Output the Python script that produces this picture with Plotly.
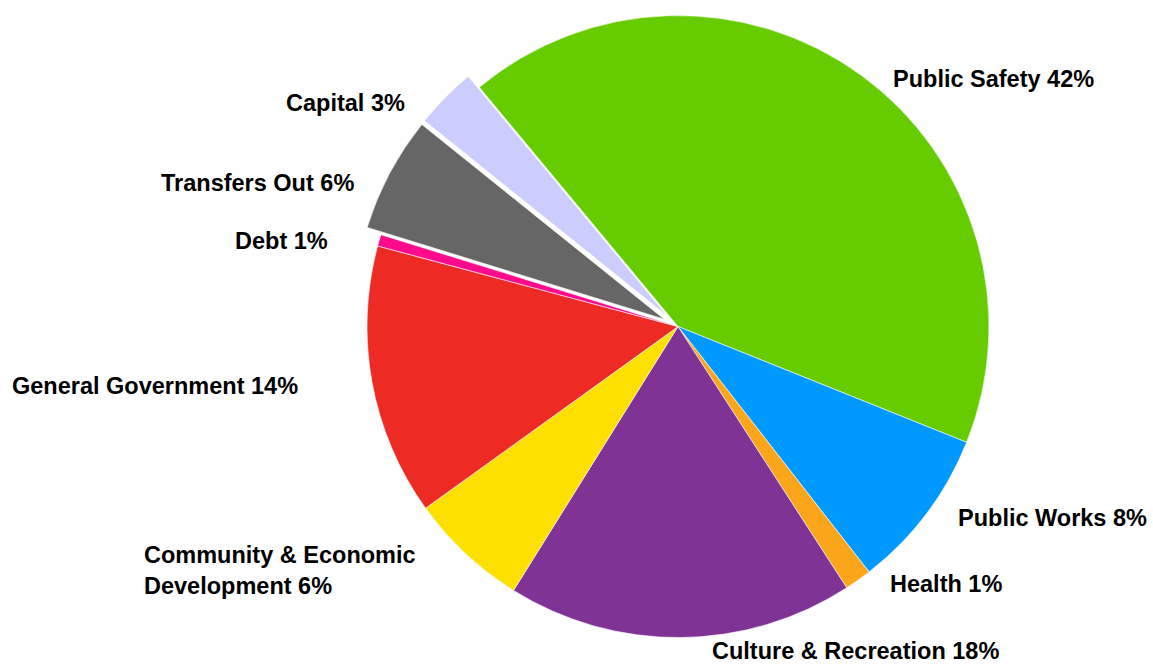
import math
import plotly.graph_objects as go

# Expenditure shares by function (percent of total)
categories = [
    "Public Safety",
    "Public Works",
    "Health",
    "Culture & Recreation",
    "Community & Economic Development",
    "General Government",
    "Debt",
    "Transfers Out",
    "Capital",
]
shares = [42.1, 8.4, 1.4, 18.0, 6.2, 14.1, 0.6, 6.0, 3.2]
colors = ["#66CC00", "#0099FF", "#FBA51B", "#7F3395", "#FDE000",
          "#EE2A25", "#FF0A8D", "#666666", "#CCCCFF"]
exploded = ["Transfers Out", "Capital"]

# Display name overrides (line breaks)
display_names = {"Community & Economic Development": "Community & Economic<br>Development"}

# ---- layout geometry ----
W, H = 1153, 669
PULL = 0.05
RADIUS = 311
CX = 678
START = -39.7          # first slice starts this many degrees from 12 o'clock
LABEL_GAP = 30
FONT = dict(family="Liberation Sans, Arial, sans-serif", size=23.5, color="#000000", weight="bold")
# fine placement of some labels (px)
label_nudge = {
    "Culture & Recreation": (0, 9),
    "Community & Economic Development": (-18, 13),
    "General Government": (-42, 0),
    "Debt": (-19, -3),
    "Transfers Out": (-4, 6),
    "Capital": (-8, 1),
}

box = 2 * RADIUS * (1 + PULL)
dom_y = [1 - box / H, 1]
dom_x = [(CX - box / 2) / W, (CX + box / 2) / W]
CY = box / 2

fig = go.Figure(
    go.Pie(
        labels=categories,
        values=shares,
        sort=False,
        direction="clockwise",
        rotation=START,
        pull=[PULL if c in exploded else 0 for c in categories],
        marker=dict(colors=colors, line=dict(color="white", width=0.6)),
        textinfo="none",
        domain=dict(x=dom_x, y=dom_y),
        showlegend=False,
        hovertemplate="%{label}: %{percent}<extra></extra>",
    )
)

# Outside labels placed at each slice's mid-angle
total = sum(shares)
angle = START
for name, val in zip(categories, shares):
    span = val / total * 360
    mid = math.radians(angle + span / 2)
    angle += span
    rr = RADIUS * (1 + PULL) if name in exploded else RADIUS
    px = CX + rr * math.sin(mid)
    py = CY - rr * math.cos(mid)
    right = math.sin(mid) > 0
    dx, dy = label_nudge.get(name, (0, 0))
    x = px + (LABEL_GAP if right else -LABEL_GAP) + dx
    y = py + 4 + dy
    pct = val / total * 100
    fig.add_annotation(
        x=x / W, y=1 - y / H, xref="paper", yref="paper",
        xanchor="left" if right else "right", yanchor="middle",
        align="left", showarrow=False,
        text=f"{display_names.get(name, name)} {pct:.0f}%",
        font=FONT,
    )

fig.update_layout(
    width=W, height=H,
    margin=dict(l=0, r=0, t=0, b=0, pad=0),
    paper_bgcolor="white",
    plot_bgcolor="white",
)

fig.write_html("out.html")
